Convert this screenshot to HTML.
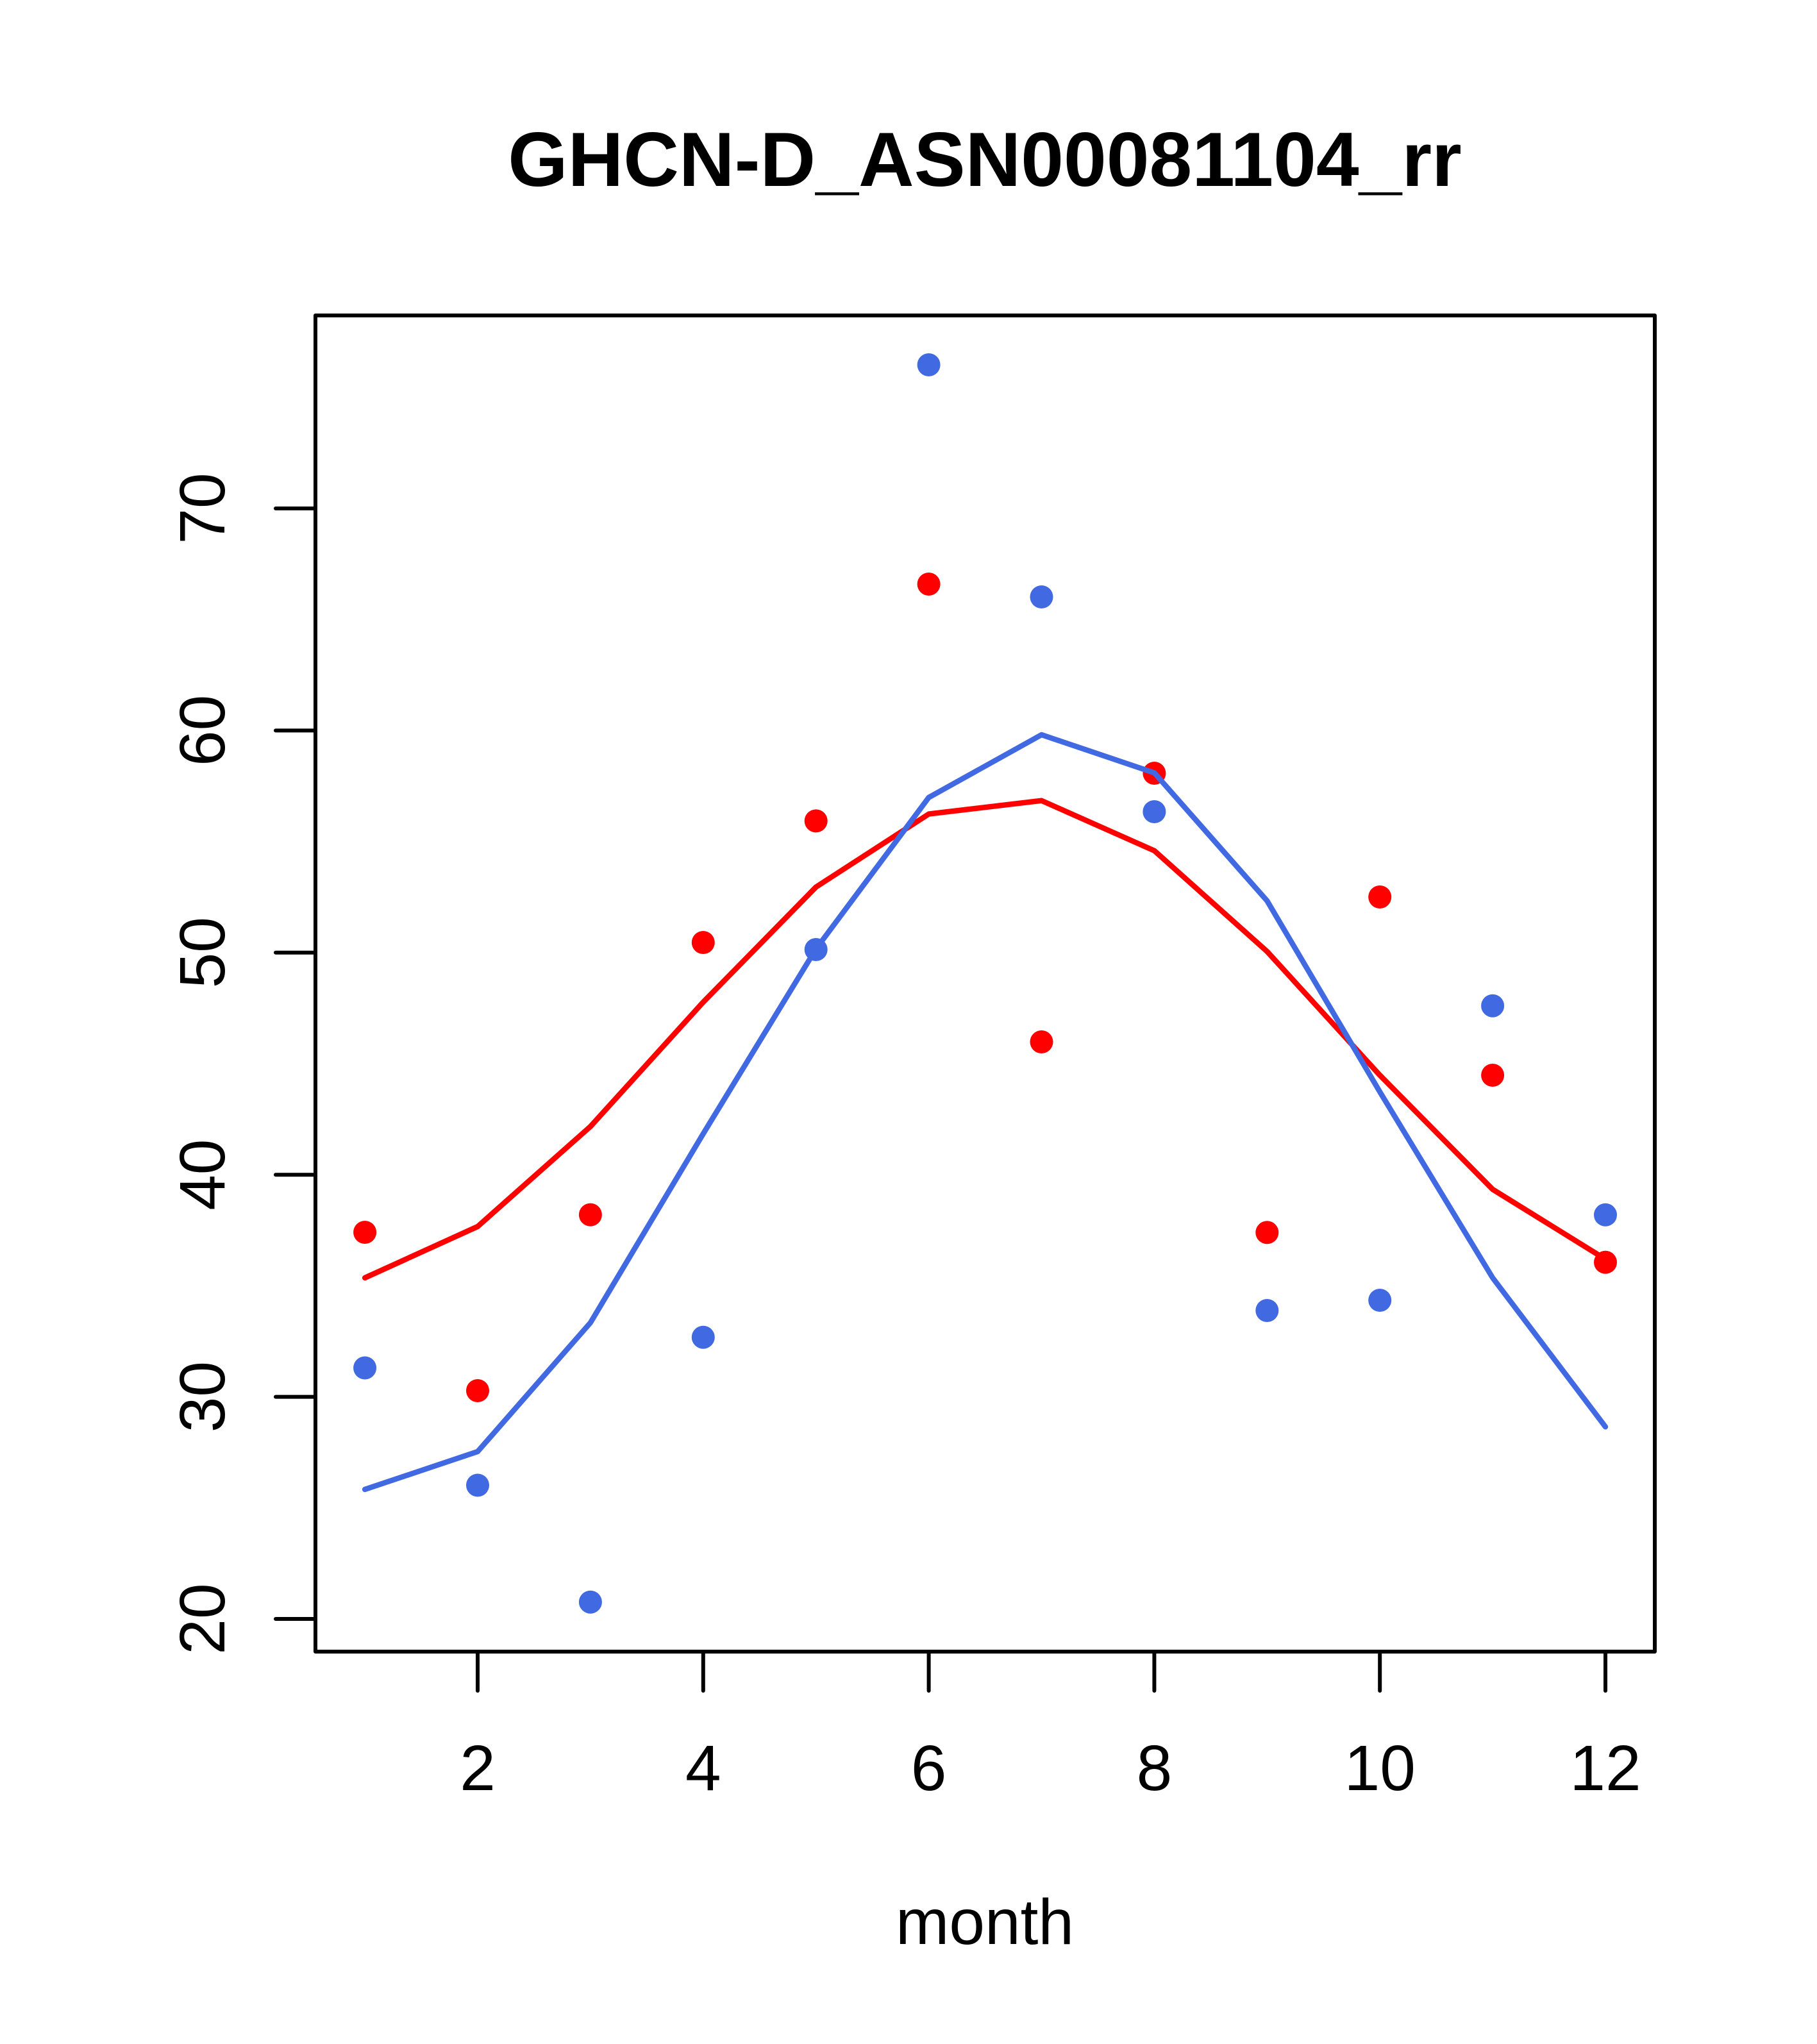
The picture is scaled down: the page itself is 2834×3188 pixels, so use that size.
<!DOCTYPE html>
<html>
<head>
<meta charset="utf-8">
<style>
  html, body { margin: 0; padding: 0; background: #ffffff; }
  svg { display: block; }
  text { font-family: "Liberation Sans", Arial, sans-serif; fill: #000; }
</style>
</head>
<body>
<svg width="2834" height="3188" viewBox="0 0 2834 3188" xmlns="http://www.w3.org/2000/svg">
  <rect x="0" y="0" width="2834" height="3188" fill="#ffffff"/>

  <!-- Title -->
  <text x="1536" y="290" font-size="120" font-weight="bold" text-anchor="middle">GHCN-D_ASN00081104_rr</text>

  <!-- Points: red -->
  <g fill="#FF0000">
    <circle cx="569.1" cy="1922" r="18"/>
    <circle cx="745" cy="2169" r="18"/>
    <circle cx="920.9" cy="1894.6" r="18"/>
    <circle cx="1096.8" cy="1470" r="18"/>
    <circle cx="1272.7" cy="1280.4" r="18"/>
    <circle cx="1448.6" cy="911" r="18"/>
    <circle cx="1624.5" cy="1625" r="18"/>
    <circle cx="1800.4" cy="1206" r="18"/>
    <circle cx="1976.3" cy="1922.3" r="18"/>
    <circle cx="2152.2" cy="1399" r="18"/>
    <circle cx="2328.1" cy="1677" r="18"/>
    <circle cx="2504" cy="1968.8" r="18"/>
  </g>
  <!-- Points: blue -->
  <g fill="#4169E1">
    <circle cx="569.1" cy="2133.5" r="18"/>
    <circle cx="745" cy="2316.5" r="18"/>
    <circle cx="920.9" cy="2498.7" r="18"/>
    <circle cx="1096.8" cy="2085.7" r="18"/>
    <circle cx="1272.7" cy="1481" r="18"/>
    <circle cx="1448.6" cy="569" r="18"/>
    <circle cx="1624.5" cy="931" r="18"/>
    <circle cx="1800.4" cy="1266" r="18"/>
    <circle cx="1976.3" cy="2044" r="18"/>
    <circle cx="2152.2" cy="2028" r="18"/>
    <circle cx="2328.1" cy="1568.7" r="18"/>
    <circle cx="2504" cy="1894.8" r="18"/>
  </g>

  <!-- Lines -->
  <polyline fill="none" stroke="#FF0000" stroke-width="8.4" stroke-linecap="round" stroke-linejoin="round"
    points="569.1,1993 745,1913 920.9,1757 1096.8,1563 1272.7,1383.5 1448.6,1269.6 1624.5,1248.7 1800.4,1326.8 1976.3,1484 2152.2,1677 2328.1,1855 2504,1964"/>
  <polyline fill="none" stroke="#4169E1" stroke-width="8.4" stroke-linecap="round" stroke-linejoin="round"
    points="569.1,2323 745,2264 920.9,2063 1096.8,1768.3 1272.7,1480 1448.6,1243.8 1624.5,1146 1800.4,1205.4 1976.3,1405 2152.2,1703 2328.1,1993 2504,2225.4"/>

  <!-- Plot box -->
  <rect x="492" y="492" width="2089" height="2084" fill="none" stroke="#000" stroke-width="6" stroke-linejoin="round"/>

  <!-- X axis ticks -->
  <g stroke="#000" stroke-width="6" stroke-linecap="round">
    <line x1="745" y1="2576" x2="745" y2="2637"/>
    <line x1="1096.8" y1="2576" x2="1096.8" y2="2637"/>
    <line x1="1448.6" y1="2576" x2="1448.6" y2="2637"/>
    <line x1="1800.4" y1="2576" x2="1800.4" y2="2637"/>
    <line x1="2152.2" y1="2576" x2="2152.2" y2="2637"/>
    <line x1="2504" y1="2576" x2="2504" y2="2637"/>
  </g>
  <g font-size="100" text-anchor="middle">
    <text x="745" y="2792">2</text>
    <text x="1096.8" y="2792">4</text>
    <text x="1448.6" y="2792">6</text>
    <text x="1800.4" y="2792">8</text>
    <text x="2152.2" y="2792">10</text>
    <text x="2504" y="2792">12</text>
  </g>

  <!-- Y axis ticks -->
  <g stroke="#000" stroke-width="6" stroke-linecap="round">
    <line x1="430" y1="2525" x2="492" y2="2525"/>
    <line x1="430" y1="2178.6" x2="492" y2="2178.6"/>
    <line x1="430" y1="1832.2" x2="492" y2="1832.2"/>
    <line x1="430" y1="1485.8" x2="492" y2="1485.8"/>
    <line x1="430" y1="1139.4" x2="492" y2="1139.4"/>
    <line x1="430" y1="793" x2="492" y2="793"/>
  </g>
  <g font-size="100" text-anchor="middle">
    <text transform="translate(350,2525) rotate(-90)">20</text>
    <text transform="translate(350,2178.6) rotate(-90)">30</text>
    <text transform="translate(350,1832.2) rotate(-90)">40</text>
    <text transform="translate(350,1485.8) rotate(-90)">50</text>
    <text transform="translate(350,1139.4) rotate(-90)">60</text>
    <text transform="translate(350,793) rotate(-90)">70</text>
  </g>

  <!-- X label -->
  <text x="1536" y="3032" font-size="100" text-anchor="middle">month</text>
</svg>
</body>
</html>
